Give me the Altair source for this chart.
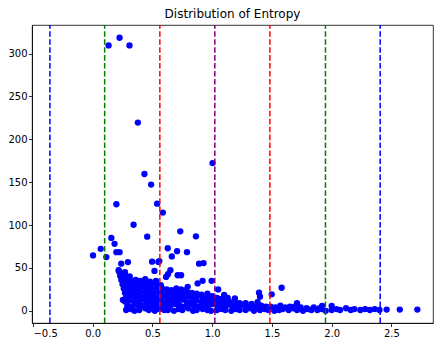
import altair as alt
import pandas as pd

# ---- data ----
outlier_x = [0.133, 0.225, 0.308, 0.378, 1.003, 0.433, 0.489, 0.198, 0.539, 0.587,
             0.342, 0.733, 0.456, 0.864, 0.156, 0.183, 0.067, 0.003, 0.198, 0.225,
             0.628, 0.706, 0.789, 0.662, 0.114, 0.928, 0.497, 0.558, 0.239, 0.295,
             0.517, 0.217, 0.650, 0.614, 0.711, 0.920, 0.995, 1.050, 1.100, 0.878,
             0.795, 0.253, 1.392, 1.400, 1.498, 1.581, 1.190, 1.710, 1.920, 2.000,
             2.460, 2.570, 2.717, 0.740, 0.630, 0.890, 0.550]
outlier_y = [309.6, 318.5, 309.6, 219.6, 172.3, 159.6, 147.3, 124.3, 125.0, 114.6,
             100.4, 92.7, 86.5, 86.9, 85.0, 78.1, 72.3, 64.6, 68.4, 68.4,
             73.0, 69.6, 68.4, 63.5, 62.7, 55.7, 57.3, 58.0, 55.0, 56.9,
             46.5, 47.3, 47.3, 39.6, 41.5, 35.0, 35.0, 25.0, 18.5, 32.0,
             28.0, 12.7, 21.1, 16.5, 19.2, 26.9, 14.6, 8.9, 5.8, 5.8,
             1.5, 1.5, 1.5, 41.5, 42.7, 55.0, 57.0]

row1_x = [0.28, 0.32, 0.35, 0.39, 0.44, 0.47, 0.52, 0.56, 0.60, 0.63,
          0.68, 0.72, 0.75, 0.80, 0.84, 0.87, 0.92, 0.96, 0.99, 1.04,
          1.08, 1.11, 1.16, 1.20, 1.23, 1.28, 1.32, 1.35, 1.40, 1.44,
          1.47, 1.52, 1.56, 1.59, 1.64, 1.68, 1.71, 1.76, 1.80, 1.83,
          1.88, 1.92, 1.95, 2.00, 2.04, 2.07, 2.12, 2.16, 2.19, 2.24,
          2.28, 2.32, 2.36, 2.40]
row1_y = [1, 2, 0, 1, 3, 1, 0, 2, 1, 1,
          0, 2, 1, 3, 0, 1, 2, 1, 0, 1,
          2, 1, 0, 2, 1, 1, 3, 0, 1, 2,
          1, 0, 1, 2, 1, 3, 1, 0, 2, 1,
          1, 2, 0, 1, 2, 1, 3, 1, 2, 1,
          2, 1, 2, 1]
row2_x = [0.29, 0.33, 0.37, 0.41, 0.45, 0.49, 0.53, 0.57, 0.61, 0.65,
          0.69, 0.73, 0.77, 0.81, 0.85, 0.89, 0.93, 0.97, 1.01, 1.05,
          1.09, 1.13, 1.17, 1.21, 1.25, 1.29, 1.33, 1.37, 1.41, 1.45,
          1.49, 1.53, 1.57, 1.61, 1.65, 1.69, 1.74, 1.79, 1.85, 1.90]
row2_y = [6, 5, 7, 6, 8, 5, 6, 7, 5, 6,
          8, 6, 5, 7, 6, 5, 7, 6, 8, 5,
          6, 7, 5, 6, 7, 5, 6, 5, 6, 5,
          5, 4, 6, 4, 5, 5, 4, 3, 4, 3]
row3_x = [0.27, 0.31, 0.35, 0.39, 0.43, 0.47, 0.51, 0.55, 0.59, 0.63,
          0.67, 0.71, 0.75, 0.79, 0.83, 0.87, 0.91, 0.95, 0.99, 1.03,
          1.07, 1.11, 1.15, 1.19, 1.23, 1.28, 1.33, 1.38]
row3_y = [11, 12, 10, 11, 13, 11, 10, 12, 11, 10,
          12, 11, 13, 10, 11, 12, 10, 11, 12, 10,
          11, 12, 10, 11, 9, 9, 8, 10]
row4_x = [0.28, 0.32, 0.36, 0.40, 0.44, 0.48, 0.52, 0.56, 0.60, 0.64,
          0.68, 0.72, 0.76, 0.80, 0.84, 0.88, 0.92, 0.96, 1.00, 1.04,
          1.08, 1.13]
row4_y = [16, 17, 15, 16, 18, 16, 15, 17, 16, 15,
          17, 16, 15, 17, 16, 18, 15, 16, 17, 15,
          14, 15]
row5_x = [0.27, 0.31, 0.35, 0.39, 0.43, 0.47, 0.51, 0.55, 0.59, 0.63,
          0.67, 0.71, 0.75, 0.79, 0.83, 0.87, 0.91, 0.96]
row5_y = [21, 22, 20, 21, 23, 21, 20, 22, 21, 20,
          22, 21, 20, 22, 21, 20, 19, 20]
row6_x = [0.26, 0.30, 0.34, 0.38, 0.42, 0.46, 0.50, 0.54, 0.58, 0.62,
          0.66, 0.70, 0.74, 0.78]
row6_y = [26, 27, 25, 26, 28, 26, 25, 27, 26, 25,
          24, 26, 25, 24]
row7_x = [0.25, 0.29, 0.33, 0.37, 0.41, 0.45, 0.49, 0.53, 0.57]
row7_y = [31, 32, 30, 31, 33, 31, 30, 32, 30]
row8_x = [0.24, 0.28, 0.32, 0.36, 0.40, 0.44, 0.48, 0.53]
row8_y = [36, 37, 35, 36, 35, 37, 34, 35]
row9_x = [0.23, 0.27, 0.31, 0.22, 0.27]
row9_y = [41, 42, 40, 46, 45]

# mean and +/- 1, 2, 3 std reference lines
line_x = [-0.358, 0.100, 0.562, 1.022, 1.483, 1.948, 2.406]
line_color = ["#0000ff", "#008000", "#ff0000", "#800080", "#ff0000", "#008000", "#0000ff"]

x_ticks = [-0.5, 0.0, 0.5, 1.0, 1.5, 2.0, 2.5]
y_ticks = [0, 50, 100, 150, 200, 250, 300]

xs, ys = [], []
for a, b in [(outlier_x, outlier_y), (row1_x, row1_y), (row2_x, row2_y), (row3_x, row3_y),
             (row4_x, row4_y), (row5_x, row5_y), (row6_x, row6_y), (row7_x, row7_y),
             (row8_x, row8_y), (row9_x, row9_y)]:
    assert len(a) == len(b)
    xs += a
    ys += b

points = pd.DataFrame({"entropy": xs, "count": ys})
lines = pd.DataFrame({"x": line_x, "color": line_color})

xscale = alt.Scale(domain=[-0.508, 2.848], nice=False, zero=False)
yscale = alt.Scale(domain=[-14.2, 333.4], nice=False, zero=False)

axis_common = dict(grid=False, labelFont="DejaVu Sans", labelFontSize=10, labelColor="black",
                   tickColor="black", domainColor="black", tickSize=3.5, tickWidth=0.8,
                   domainWidth=0.8, labelPadding=1.5, title=None)

scatter = alt.Chart(points).mark_circle(size=40, color="#0000ff", opacity=1).encode(
    x=alt.X("entropy:Q", scale=xscale,
            axis=alt.Axis(values=x_ticks, format=".1f", **axis_common)),
    y=alt.Y("count:Q", scale=yscale,
            axis=alt.Axis(values=y_ticks, format="d", **axis_common)),
)

rules = alt.Chart(lines).mark_rule(strokeWidth=1.5, strokeDash=[5.55, 2.4]).encode(
    x=alt.X("x:Q", scale=xscale),
    color=alt.Color("color:N", scale=None),
    y=alt.value(298),
    y2=alt.value(0),
)

chart = alt.layer(scatter, rules).properties(
    width=401,
    height=298,
    title=alt.TitleParams("Distribution of Entropy", font="DejaVu Sans", fontSize=12,
                          fontWeight="normal", color="black", offset=3),
    autosize=alt.AutoSizeParams(type="none"),
    padding={"left": 24, "top": 17, "right": 2, "bottom": 22},
).configure_view(stroke="black", strokeWidth=0.8)

chart.save("out.html", embed_options={"renderer": "svg", "actions": False})
